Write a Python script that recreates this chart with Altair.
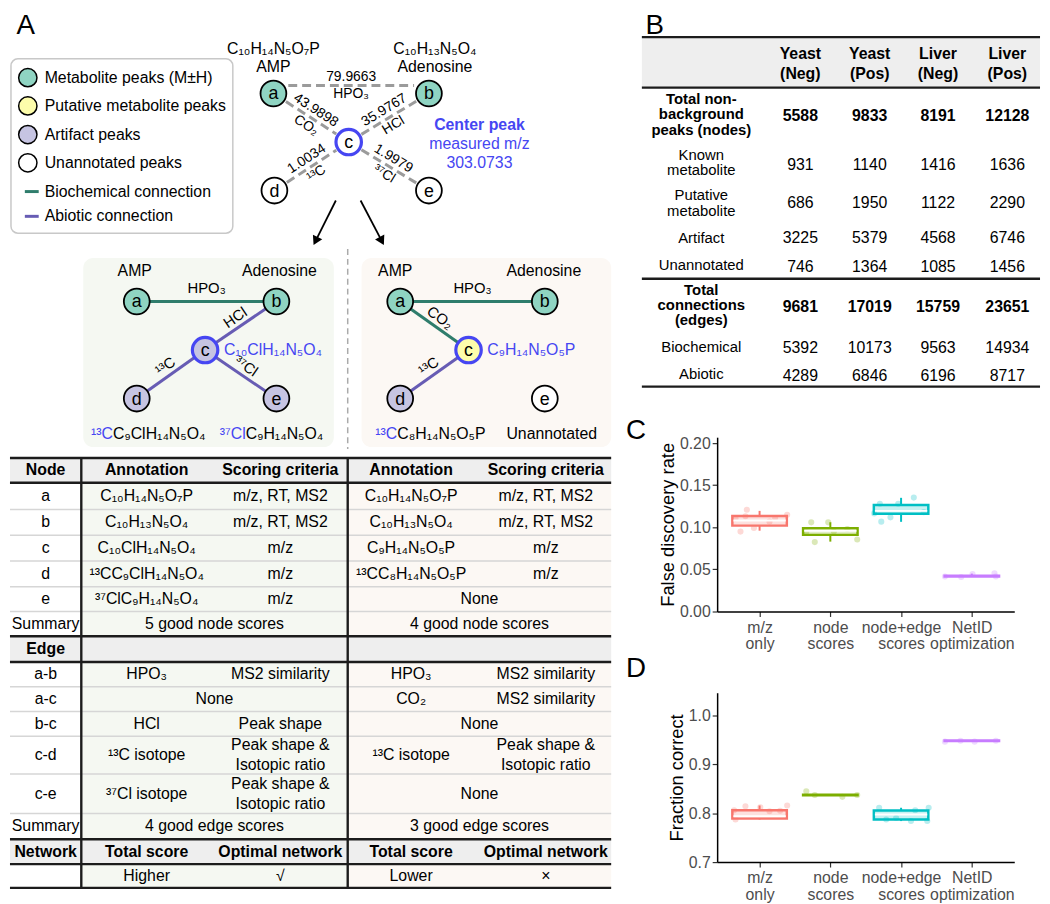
import math
import json
import altair as alt
import pandas as pd

FONT = "Liberation Sans"

# ======================= DATA =======================
legend_labels = ["Metabolite peaks (M±H)", "Putative metabolite peaks", "Artifact peaks",
                 "Unannotated peaks", "Biochemical connection", "Abiotic connection"]
legend_kinds = ["metabolite", "putative", "artifact", "unannotated", "bio", "abio"]

top_node_ids = ["a", "b", "c", "d", "e"]
top_node_names = ["AMP", "Adenosine"]
top_node_formulas = ["C₁₀H₁₄N₅O₇P", "C₁₀H₁₃N₅O₄"]
top_edges = [("a", "b"), ("a", "c"), ("b", "c"), ("c", "d"), ("c", "e")]
top_edge_mass = ["79.9663", "43.9898", "35.9767", "1.0034", "1.9979"]
top_edge_loss = ["HPO₃", "CO₂", "HCl", "¹³C", "³⁷Cl"]
center_peak_lines = ["Center peak", "measured m/z", "303.0733"]

net_names = ["AMP", "Adenosine"]
left_node_types = ["metabolite", "metabolite", "artifact", "artifact", "artifact"]
left_edges = [("a", "b", "HPO₃", "bio"), ("b", "c", "HCl", "abio"),
              ("c", "d", "¹³C", "abio"), ("c", "e", "³⁷Cl", "abio")]
left_center_formula = "C₁₀ClH₁₄N₅O₄"
left_bottom_labels = [("¹³C", "C₉ClH₁₄N₅O₄"), ("³⁷Cl", "C₉H₁₄N₅O₄")]

right_node_types = ["metabolite", "metabolite", "putative", "artifact", "unannotated"]
right_edges = [("a", "b", "HPO₃", "bio"), ("a", "c", "CO₂", "bio"), ("c", "d", "¹³C", "abio")]
right_center_formula = "C₉H₁₄N₅O₅P"
right_bottom_labels = [("¹³C", "C₈H₁₄N₅O₅P"), ("", "Unannotated")]

tbl_header = ["Node", "Annotation", "Scoring criteria", "Annotation", "Scoring criteria"]
tbl_node_ids = ["a", "b", "c", "d", "e"]
tbl_node_left = [("C₁₀H₁₄N₅O₇P", "m/z, RT, MS2"), ("C₁₀H₁₃N₅O₄", "m/z, RT, MS2"),
                 ("C₁₀ClH₁₄N₅O₄", "m/z"), ("¹³CC₉ClH₁₄N₅O₄", "m/z"), ("³⁷ClC₉H₁₄N₅O₄", "m/z")]
tbl_node_right = [("C₁₀H₁₄N₅O₇P", "m/z, RT, MS2"), ("C₁₀H₁₃N₅O₄", "m/z, RT, MS2"),
                  ("C₉H₁₄N₅O₅P", "m/z"), ("¹³CC₈H₁₄N₅O₅P", "m/z"), ("None", "")]
tbl_summary_label = "Summary"
tbl_node_summary = ["5 good node scores", "4 good node scores"]
tbl_edge_title = "Edge"
tbl_edge_ids = ["a-b", "a-c", "b-c", "c-d", "c-e"]
tbl_edge_left = [("HPO₃", "MS2 similarity"), ("None", ""), ("HCl", "Peak shape"),
                 ("¹³C isotope", "Peak shape &\nIsotopic ratio"),
                 ("³⁷Cl isotope", "Peak shape &\nIsotopic ratio")]
tbl_edge_right = [("HPO₃", "MS2 similarity"), ("CO₂", "MS2 similarity"), ("None", ""),
                  ("¹³C isotope", "Peak shape &\nIsotopic ratio"), ("None", "")]
tbl_edge_summary = ["4 good edge scores", "3 good edge scores"]
tbl_net_header = ["Network", "Total score", "Optimal network", "Total score", "Optimal network"]
tbl_net_result = ["", "Higher", "√", "Lower", "×"]

b_col_labels = ["Yeast\n(Neg)", "Yeast\n(Pos)", "Liver\n(Neg)", "Liver\n(Pos)"]
b_row_labels = ["Total non-\nbackground\npeaks (nodes)", "Known\nmetabolite", "Putative\nmetabolite",
                "Artifact", "Unannotated", "Total\nconnections\n(edges)", "Biochemical", "Abiotic"]
b_row_bold = [True, False, False, False, False, True, False, False]
b_yeast_neg = [5588, 931, 686, 3225, 746, 9681, 5392, 4289]
b_yeast_pos = [9833, 1140, 1950, 5379, 1364, 17019, 10173, 6846]
b_liver_neg = [8191, 1416, 1122, 4568, 1085, 15759, 9563, 6196]
b_liver_pos = [12128, 1636, 2290, 6746, 1456, 23651, 14934, 8717]

methods = ["m/z only", "node scores", "node+edge scores", "NetID optimization"]
method_colors = ["#F8766D", "#7CAE00", "#00BFC4", "#C77CFF"]

fdr_q1 = [0.1020, 0.0910, 0.1160, 0.0415]
fdr_median = [0.1080, 0.0960, 0.1195, 0.0420]
fdr_q3 = [0.1135, 0.0990, 0.1265, 0.0425]
fdr_min = [0.0960, 0.0830, 0.1065, 0.0410]
fdr_max = [0.1195, 0.1060, 0.1350, 0.0450]
fdr_pt_method = [0] * 8 + [1] * 7 + [2] * 7 + [3] * 5
fdr_pt_jitter = [-0.18, -0.27, -0.08, 0.14, 0.39, -0.34, -0.20, 0.22,
                 -0.27, -0.03, -0.22, 0.38, -0.34, 0.05, 0.24,
                 0.18, -0.28, -0.15, -0.38, -0.30, -0.04, 0.32,
                 -0.38, -0.15, 0.01, 0.32, 0.34]
fdr_pt_value = [0.1208, 0.0949, 0.0992, 0.1067, 0.1149, 0.1106, 0.1130, 0.1110,
                0.1059, 0.1059, 0.0824, 0.0855, 0.0941, 0.0950, 0.0980,
                0.1353, 0.1067, 0.1118, 0.1165, 0.1280, 0.1280, 0.1180,
                0.0416, 0.0410, 0.0445, 0.0455, 0.0416]

fc_q1 = [0.7890, 0.8365, 0.7870, 0.9475]
fc_median = [0.7935, 0.8370, 0.7970, 0.9480]
fc_q3 = [0.8060, 0.8375, 0.8055, 0.9485]
fc_min = [0.7870, 0.8360, 0.7838, 0.9465]
fc_max = [0.8156, 0.8385, 0.8110, 0.9490]
fc_pt_method = [0] * 7 + [1] * 4 + [2] * 7 + [3] * 4
fc_pt_jitter = [-0.34, -0.20, 0.39, 0.14, -0.36, 0.01, 0.29,
                -0.34, 0.17, -0.22, 0.38,
                -0.31, 0.39, 0.37, 0.14, -0.21, -0.07, 0.20,
                -0.38, 0.04, 0.34, -0.16]
fc_pt_value = [0.787, 0.814, 0.8156, 0.804, 0.806, 0.812, 0.805,
               0.8447, 0.8333, 0.837, 0.837,
               0.811, 0.811, 0.7838, 0.7838, 0.787, 0.790, 0.806,
               0.946, 0.946, 0.948, 0.948]

# ======================= STYLE & LAYOUT =======================
PAL = {"metabolite": "#8fd4c2", "putative": "#fdfdab", "artifact": "#c6c4e2",
       "unannotated": "#ffffff", "bio": "#2f7d6c", "abio": "#675cb4"}
BLUE = "#4646f2"
DASH_GRAY = "#9b9b9b"
LINE_DARK = "#1c1c1c"
LINE_LIGHT = "#d6d6d6"
HEAD_BG = "#eeeeee"
LEFT_BG = "#f5f8f2"
RIGHT_BG = "#fcf8f4"


class Canvas:
    def __init__(self, xs, ys):
        self.xs, self.ys = xs, ys
        self.rects, self.segs, self.texts = {}, {}, {}
        self.circles, self.heads = [], []

    def rect(self, x, y, x2, y2, fill, radius=0, stroke="", sw=0):
        self.rects.setdefault((radius, stroke, sw), []).append((x, y, x2, y2, fill))

    def seg(self, x, y, x2, y2, color, w, dash=()):
        self.segs.setdefault(tuple(dash), []).append((x, y, x2, y2, color, w))

    def circle(self, x, y, fill, stroke, sw, size):
        self.circles.append((x, y, fill, stroke, sw, size))

    def head(self, x, y, angle, size):
        self.heads.append((x, y, angle, size))

    def text(self, x, y, s, size=16, color="black", angle=0, weight="normal", align="center", lh=20):
        n = s.count("\n")
        y = y - n * lh / 2  # centre multi-line blocks on y
        self.texts.setdefault((weight, align, lh), []).append((x, y, s, size, color, angle))

    def layers(self):
        X = lambda f: alt.X(f + ":Q", scale=self.xs, axis=None)
        Y = lambda f: alt.Y(f + ":Q", scale=self.ys, axis=None)
        out = []
        for (rad, stroke, sw), rows in self.rects.items():
            df = pd.DataFrame(rows, columns=["x", "y", "x2", "y2", "fill"])
            props = {}
            if rad:
                props["cornerRadius"] = rad
            if stroke:
                props.update(stroke=stroke, strokeWidth=sw)
            out.append(alt.Chart(df).mark_rect(**props).encode(
                x=X("x"), y=Y("y"), x2="x2:Q", y2="y2:Q", fill=alt.Fill("fill:N", scale=None)))
        for dash, rows in self.segs.items():
            df = pd.DataFrame(rows, columns=["x", "y", "x2", "y2", "color", "w"])
            props = {"strokeCap": "butt"}
            if dash:
                props["strokeDash"] = list(dash)
            out.append(alt.Chart(df).mark_rule(**props).encode(
                x=X("x"), y=Y("y"), x2="x2:Q", y2="y2:Q",
                color=alt.Color("color:N", scale=None),
                strokeWidth=alt.StrokeWidth("w:Q", scale=None)))
        if self.circles:
            df = pd.DataFrame(self.circles, columns=["x", "y", "fill", "stroke", "sw", "size"])
            out.append(alt.Chart(df).mark_circle(opacity=1).encode(
                x=X("x"), y=Y("y"), fill=alt.Fill("fill:N", scale=None),
                stroke=alt.Stroke("stroke:N", scale=None),
                strokeWidth=alt.StrokeWidth("sw:Q", scale=None),
                size=alt.Size("size:Q", scale=None)))
        if self.heads:
            df = pd.DataFrame(self.heads, columns=["x", "y", "angle", "size"])
            out.append(alt.Chart(df).mark_point(shape="triangle", filled=True, color="black", opacity=1).encode(
                x=X("x"), y=Y("y"), angle=alt.Angle("angle:Q", scale=None),
                size=alt.Size("size:Q", scale=None)))
        for (weight, align, lh), rows in self.texts.items():
            df = pd.DataFrame(rows, columns=["x", "y", "text", "size", "color", "angle"])
            out.append(alt.Chart(df).mark_text(
                font=FONT, fontWeight=weight, align=align, baseline="middle",
                lineBreak="\n", lineHeight=lh).encode(
                x=X("x"), y=Y("y"), text="text:N",
                size=alt.Size("size:Q", scale=None),
                color=alt.Color("color:N", scale=None),
                angle=alt.Angle("angle:Q", scale=None)))
        return out


def unit(x1, y1, x2, y2):
    dx, dy = x2 - x1, y2 - y1
    L = math.hypot(dx, dy)
    return dx / L, dy / L


# ---------------- Panel A ----------------
A = Canvas(alt.Scale(domain=[8, 640], nice=False, zero=False),
           alt.Scale(domain=[8, 896], reverse=True, nice=False, zero=False))

# panel letters
A.text(24, 19, "A", size=28)
A.text(659, 19, "B", size=28)
A.text(640, 428, "C", size=28)
A.text(640, 668, "D", size=28)

# legend
A.rect(9, 52, 233, 228, "white", radius=7, stroke="#c8c8c8", sw=1.5)
leg_y = [71, 99.5, 128.5, 157, 186, 211]
for lab, kind, y in zip(legend_labels, legend_kinds, leg_y):
    if kind in ("bio", "abio"):
        A.seg(23, y, 37, y, PAL[kind], 3)
    else:
        A.circle(26, y, PAL[kind], "black", 1.5, 342)
    A.text(43, y, lab, size=16, align="left")

# top network
TOP = {"a": (274, 87), "b": (431, 87), "c": (350, 136), "d": (275, 185), "e": (431, 185)}
for (u, v), mass, loss in zip(top_edges, top_edge_mass, top_edge_loss):
    (x1, y1), (x2, y2) = TOP[u], TOP[v]
    if x2 < x1:
        x1, y1, x2, y2 = x2, y2, x1, y1
    ux, uy = unit(x1, y1, x2, y2)
    nx, ny = uy, -ux
    lift = -8 if abs(y2 - y1) < 1 else 0
    A.seg(x1 + ux * 15, y1 + uy * 15 + lift, x2 - ux * 15, y2 - uy * 15 + lift, DASH_GRAY, 3, dash=(9, 5))
    mx, my = (x1 + x2) / 2, (y1 + y2) / 2 + lift
    ang = math.degrees(math.atan2(y2 - y1, x2 - x1)) % 360
    A.text(mx + nx * 9, my + ny * 9, mass, size=14, angle=ang)
    A.text(mx - nx * 9, my - ny * 9, loss, size=14, angle=ang)
top_types = ["metabolite", "metabolite", "unannotated", "unannotated", "unannotated"]
for nid, t in zip(top_node_ids, top_types):
    x, y = TOP[nid]
    if nid == "c":
        A.circle(x, y, "white", BLUE, 3.2, 660)
    else:
        A.circle(x, y, PAL[t], "black", 1.8, 680)
    A.text(x, y + 1, nid, size=18)
for name, formula, lx in zip(top_node_names, top_node_formulas, [274, 437]):
    A.text(lx, 42, formula, size=16)
    A.text(lx, 60, name, size=16)
for line, y in zip(center_peak_lines, [119, 138, 157]):
    A.text(482, y, line, size=16, color=BLUE, weight="bold" if y == 119 else "normal")
# arrows
for (sx, sy), (tx, ty) in [((337, 195), (315, 239)), ((362, 195), (385, 239))]:
    ux, uy = unit(sx, sy, tx, ty)
    cx, cy = tx - ux * 5, ty - uy * 5
    A.seg(sx, sy, cx, cy, "black", 1.8)
    ang = (math.degrees(math.atan2(ux, -uy))) % 360
    A.head(cx, cy, ang, 110)

# middle networks
A.rect(82, 253, 335, 444, LEFT_BG, radius=10)
A.rect(363, 253, 615, 444, RIGHT_BG, radius=10)
A.seg(349, 244, 349, 446, "#aaaaaa", 1.5, dash=(6, 4))


def network(pos, types, edges, formula, name_x, bottom, bottom_x):
    for u, v, lab, kind in edges:
        (x1, y1), (x2, y2) = pos[u], pos[v]
        A.seg(x1, y1, x2, y2, PAL[kind], 3)
        if x2 < x1:
            x1, y1, x2, y2 = x2, y2, x1, y1
        ux, uy = unit(x1, y1, x2, y2)
        nx, ny = uy, -ux
        mx, my = (x1 + x2) / 2, (y1 + y2) / 2
        if abs(y2 - y1) < 1:
            A.text(mx, my - 14, lab, size=15)
        else:
            A.text(mx + nx * 10, my + ny * 10, lab, size=15,
                   angle=math.degrees(math.atan2(y2 - y1, x2 - x1)) % 360)
    for nid, t in zip(top_node_ids, types):
        x, y = pos[nid]
        if nid == "c":
            A.circle(x, y, PAL[t], BLUE, 3.2, 660)
        else:
            A.circle(x, y, PAL[t], "black", 1.8, 680)
        A.text(x, y + 1, nid, size=18)
    for name, nx_ in zip(net_names, name_x):
        A.text(nx_, 266, name, size=16)
    A.text(pos["c"][0] + 19, pos["c"][1], formula, size=16, color=BLUE, align="left")
    for (blue, black), bx in zip(bottom, bottom_x):
        if blue:
            A.text(bx, 431, blue, size=16, color=BLUE, align="right")
            A.text(bx, 431, black, size=16, align="left")
        else:
            A.text(bx, 431, black, size=16)


LEFT = {"a": (136, 297), "b": (277, 297), "c": (205, 346), "d": (136, 395), "e": (277, 395)}
RIGHT = {"a": (402, 297), "b": (548, 297), "c": (471, 346), "d": (402, 395), "e": (548, 395)}
network(LEFT, left_node_types, left_edges, left_center_formula, [134, 280], left_bottom_labels, [112, 246])
network(RIGHT, right_node_types, right_edges, right_center_formula, [397, 547], right_bottom_labels, [399, 555])

# table in panel A
ROWB = [455, 480, 507, 533, 559, 585, 610, 635, 661, 686, 711, 736, 774, 814, 840, 865, 889]
ROWC = [(ROWB[i] + ROWB[i + 1]) / 2 for i in range(len(ROWB) - 1)]
TX0, TX1 = 8, 615
CX = {"node": 44, "la": 146, "ls": 281, "lm": 214.5, "ra": 413, "rs": 549, "rm": 482}
HEAD_ROWS = [0, 7, 14]
THICK = [0, 1, 7, 8, 14, 15, 16]
for i in range(len(ROWC)):
    y0, y1 = ROWB[i], ROWB[i + 1]
    if i in HEAD_ROWS:
        A.rect(TX0, y0, TX1, y1, HEAD_BG)
    else:
        A.rect(80, y0, 349, y1, LEFT_BG)
        A.rect(349, y0, TX1, y1, RIGHT_BG)
for j, y in enumerate(ROWB):
    if j not in THICK:
        A.seg(TX0, y, TX1, y, LINE_LIGHT, 1.5)
for j, y in enumerate(ROWB):
    if j in THICK:
        A.seg(TX0, y, TX1, y, LINE_DARK, 2.4)
for x in [80, 349]:
    A.seg(x, ROWB[0], x, ROWB[-1], LINE_DARK, 2.4)

KEYS = ["node", "la", "ls", "ra", "rs"]


def full_row(r, vals, weight="normal"):
    for k, v in zip(KEYS, vals):
        if v:
            A.text(CX[k], ROWC[r], v, size=16, weight=weight)


def side_cell(r, side, cell):
    a, s = cell
    if s == "":
        A.text(CX[side + "m"], ROWC[r], a, size=16)
    else:
        A.text(CX[side + "a"], ROWC[r], a, size=16)
        A.text(CX[side + "s"], ROWC[r], s, size=16)


full_row(0, tbl_header, "bold")
for k, (nid, lc, rc) in enumerate(zip(tbl_node_ids, tbl_node_left, tbl_node_right)):
    A.text(CX["node"], ROWC[1 + k], nid, size=16)
    side_cell(1 + k, "l", lc)
    side_cell(1 + k, "r", rc)
A.text(CX["node"], ROWC[6], tbl_summary_label, size=16)
A.text(CX["lm"], ROWC[6], tbl_node_summary[0], size=16)
A.text(CX["rm"], ROWC[6], tbl_node_summary[1], size=16)
A.text(CX["node"], ROWC[7], tbl_edge_title, size=16, weight="bold")
for k, (eid, lc, rc) in enumerate(zip(tbl_edge_ids, tbl_edge_left, tbl_edge_right)):
    A.text(CX["node"], ROWC[8 + k], eid, size=16)
    side_cell(8 + k, "l", lc)
    side_cell(8 + k, "r", rc)
A.text(CX["node"], ROWC[13], tbl_summary_label, size=16)
A.text(CX["lm"], ROWC[13], tbl_edge_summary[0], size=16)
A.text(CX["rm"], ROWC[13], tbl_edge_summary[1], size=16)
full_row(14, tbl_net_header, "bold")
full_row(15, tbl_net_result)

# ---------------- Panel B ----------------
B = Canvas(alt.Scale(domain=[722, 1022], nice=False, zero=False),
           alt.Scale(domain=[8, 352], reverse=True, nice=False, zero=False))
BX0, BX1 = 646, 1048
B.rect(BX0, 30, BX1, 81, HEAD_BG)
for y in [30, 81, 274, 383]:
    B.seg(BX0, y, BX1, y, LINE_DARK, 2.4)
BCOLS = [806, 876, 945, 1015]
for lab, cx in zip(b_col_labels, BCOLS):
    B.text(cx, 57, lab, size=16, weight="bold", lh=20)
BROWY = [108, 156.5, 197.5, 232.5, 260.5, 300.5, 343, 370]
BVALY = [110, 159, 197.5, 233, 262, 303, 344, 372]
for r, (lab, bold) in enumerate(zip(b_row_labels, b_row_bold)):
    w = "bold" if bold else "normal"
    B.text(706, BROWY[r], lab, size=15, weight=w, lh=15.5)
    for cx, col in zip(BCOLS, [b_yeast_neg, b_yeast_pos, b_liver_neg, b_liver_pos]):
        B.text(cx, BVALY[r], str(col[r]), size=16, weight=w, lh=15.5)


# ---------------- Panels C & D ----------------
def box_panel(q1, med, q3, lo, hi, pm, pj, pv, domain, ticks, fmt, title, height):
    stats = pd.DataFrame({"idx": list(range(len(methods))), "method": methods,
                          "q1": q1, "med": med, "q3": q3, "lo": lo, "hi": hi})
    pts = pd.DataFrame({"method": [methods[i] for i in pm],
                        "pos": [i + j for i, j in zip(pm, pj)], "val": pv})
    xs = alt.Scale(domain=[-0.6, 3.6], nice=False, zero=False)
    ys = alt.Scale(domain=domain, nice=False, zero=False)
    expr = " : ".join(f"datum.value == {i} ? {json.dumps(m)}" for i, m in enumerate(methods[:-1]))
    expr = f"split({expr} : {json.dumps(methods[-1])}, ' ')"
    common = dict(grid=False, domainColor="black", domainWidth=1.5, tickColor="#333333",
                  tickWidth=1.2, tickSize=5, labelFont=FONT, labelFontSize=16, labelColor="#4d4d4d")
    xaxis = alt.Axis(values=[0, 1, 2, 3], labelExpr=expr, title=None, labelAngle=0,
                     labelOverlap=False, labelBound=False, labelFlush=False,
                     labelPadding=3, labelLineHeight=16.5, **common)
    yaxis = alt.Axis(values=ticks, format=fmt, title=title, titleFont=FONT, titleFontSize=18.5,
                     titleFontWeight="normal", titleColor="black", titlePadding=2,
                     labelOverlap=False, labelPadding=2, **common)
    cscale = alt.Scale(domain=methods, range=method_colors)
    color = alt.Color("method:N", scale=cscale, legend=None)
    thr = 5 * (domain[1] - domain[0]) / height

    points = alt.Chart(pts).mark_circle(size=38, opacity=0.28).encode(
        x=alt.X("pos:Q", scale=xs, axis=xaxis), y=alt.Y("val:Q", scale=ys, axis=yaxis), color=color)
    wh_up = alt.Chart(stats).mark_rule(strokeWidth=2).encode(
        x=alt.X("idx:Q", scale=xs, axis=xaxis), y=alt.Y("q3:Q", scale=ys, axis=yaxis), y2="hi:Q", color=color)
    wh_lo = alt.Chart(stats).mark_rule(strokeWidth=2).encode(
        x=alt.X("idx:Q", scale=xs, axis=xaxis), y=alt.Y("lo:Q", scale=ys, axis=yaxis), y2="q1:Q", color=color)
    box = alt.Chart(stats).transform_calculate(
        x0="datum.idx - 0.385", x1="datum.idx + 0.385").mark_rect(
        strokeWidth=2.5, fillOpacity=0.22).encode(
        x=alt.X("x0:Q", scale=xs, axis=xaxis), x2="x1:Q",
        y=alt.Y("q1:Q", scale=ys, axis=yaxis), y2="q3:Q",
        fill=alt.Fill("method:N", scale=cscale, legend=None),
        stroke=alt.Stroke("method:N", scale=cscale, legend=None))
    median = alt.Chart(stats).transform_filter(f"datum.q3 - datum.q1 > {thr}").transform_calculate(
        m0="datum.idx - 0.37", m1="datum.idx + 0.37").mark_rule(color="white", strokeWidth=2).encode(
        x=alt.X("m0:Q", scale=xs, axis=xaxis), x2="m1:Q", y=alt.Y("med:Q", scale=ys, axis=yaxis))
    return alt.layer(points, wh_up, wh_lo, box, median).properties(width=300, height=height)


C = box_panel(fdr_q1, fdr_median, fdr_q3, fdr_min, fdr_max, fdr_pt_method, fdr_pt_jitter, fdr_pt_value,
              [0, 0.207], [0, 0.05, 0.10, 0.15, 0.20], ".2f", "False discovery rate", 176)
D = box_panel(fc_q1, fc_median, fc_q3, fc_min, fc_max, fc_pt_method, fc_pt_jitter, fc_pt_value,
              [0.7, 1.046], [0.7, 0.8, 0.9, 1.0], ".1f", "Fraction correct", 171)

chartA = alt.layer(*A.layers()).properties(width=632, height=888)
chartB = alt.layer(*B.layers()).properties(width=300, height=344)
right = alt.vconcat(chartB, C, D, spacing=82, bounds="flush")
chart = alt.hconcat(chartA, right, spacing=82, bounds="flush", padding=0).configure(
    font=FONT).configure_view(strokeWidth=0)

chart.save("out.html", embed_options={"renderer": "svg", "actions": False})
